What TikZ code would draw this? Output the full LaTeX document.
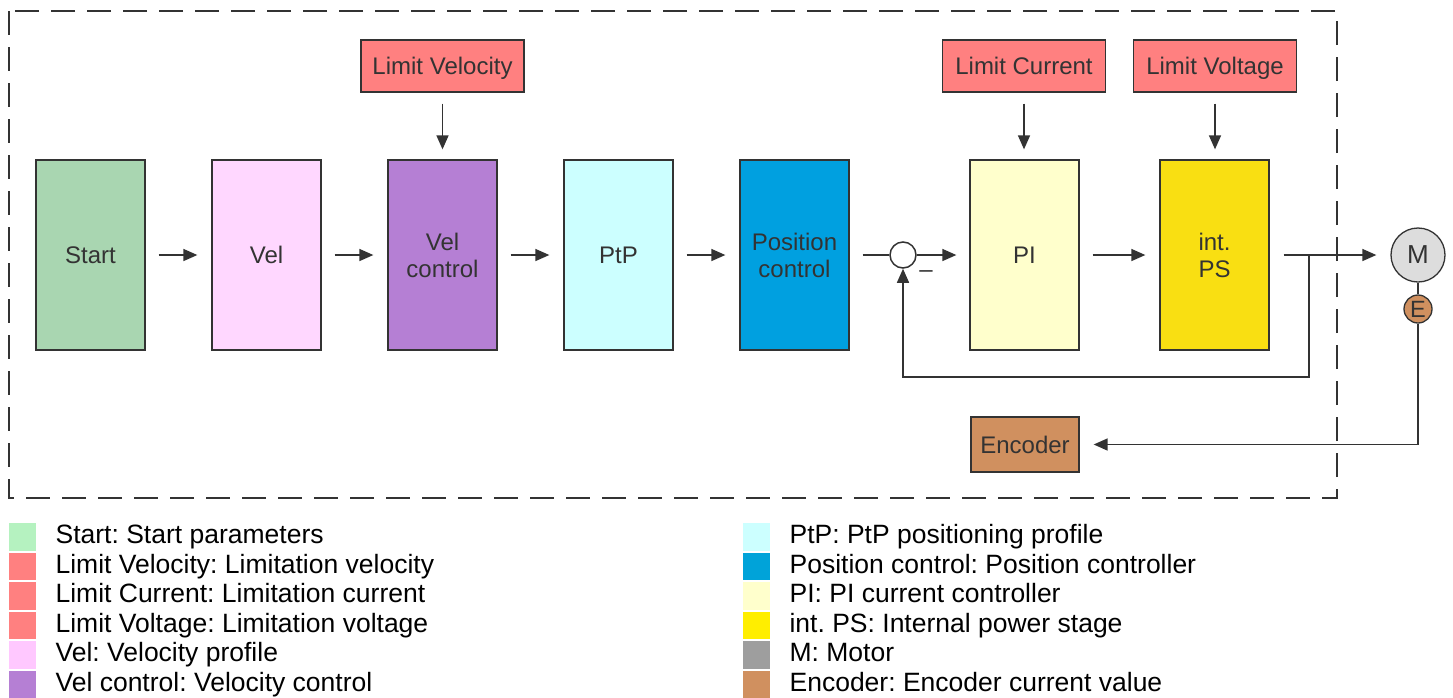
\documentclass[tikz,border=0pt]{standalone}
\usepackage{fontspec}
\setmainfont{Liberation Sans}
\frenchspacing
\usetikzlibrary{arrows.meta,positioning,calc}
\definecolor{Edge}{HTML}{333333}
\definecolor{Txt}{HTML}{333333}
\definecolor{Lim}{HTML}{FF8080}
\definecolor{StartC}{HTML}{A9D6B1}
\definecolor{StartK}{HTML}{B5F2C0}
\definecolor{VelC}{HTML}{FFD7FF}
\definecolor{VelK}{HTML}{FFC8FF}
\definecolor{VelCtl}{HTML}{B57FD4}
\definecolor{PtpC}{HTML}{CCFFFF}
\definecolor{PosC}{HTML}{00A0E0}
\definecolor{PosK}{HTML}{00A3D9}
\definecolor{PiC}{HTML}{FFFFCC}
\definecolor{PsC}{HTML}{F9DF12}
\definecolor{PsK}{HTML}{FFEE00}
\definecolor{MotC}{HTML}{DDDDDD}
\definecolor{MotK}{HTML}{9E9E9E}
\definecolor{EncC}{HTML}{D0905F}
\begin{document}
\begin{tikzpicture}[x=1pt,y=-1pt,node distance=65.7pt,
blk/.style={draw=Edge,line width=1.3pt,minimum width=109pt,minimum height=190pt,inner sep=0pt,align=center,text=Txt,font=\fontsize{24}{27}\selectfont},
lim/.style={blk,fill=Lim,minimum width=163pt,minimum height=52pt,text height=21pt,text depth=5pt},
arr/.style={-{Triangle[length=14pt,width=12pt]},line width=1.5pt,draw=Edge},
wire/.style={line width=1.5pt,draw=Edge},
swatch/.style={fill=#1,minimum width=27pt,minimum height=27.5pt,inner sep=0pt,anchor=north west},
swatchtxt/.style={right=19pt of #1,inner sep=0pt,text height=19pt,text depth=5.5pt,font=\fontsize{26.5}{30}\selectfont}]
\useasboundingbox (0,0) rectangle (1453,697);
\draw[line width=1.5pt,draw=Edge,dash pattern=on 24pt off 12pt] (9,11) rectangle (1337,498);
% main chain
\node[blk,fill=StartC] (start) at (90.5,255) {Start};
\node[blk,fill=VelC,right=of start] (vel) {Vel};
\node[blk,fill=VelCtl,right=of vel] (velctl) {Vel\\control};
\node[blk,fill=PtpC,right=of velctl] (ptp) {PtP};
\node[blk,fill=PosC,right=of ptp] (posctl) {Position\\control};
\node[draw=Edge,line width=1.5pt,fill=white,circle,minimum size=26pt,inner sep=0pt] (sum) at (903,255) {};
\node[text=Edge,font=\fontsize{24}{27}\selectfont,inner sep=0pt] (minus) at (926,274) {--};
\node[blk,fill=PiC] (pi) at (1024.5,255) {PI};
\node[blk,fill=PsC,right=79.7pt of pi] (intps) {int.\\PS};
\node[draw=Edge,line width=1.3pt,fill=MotC,circle,minimum size=54pt,inner sep=0pt,text=Txt,font=\fontsize{26}{30}\selectfont] (motor) at (1418,255) {M};
\node[draw=Edge,line width=1.3pt,fill=EncC,circle,minimum size=28pt,inner sep=0pt,text=Txt,font=\fontsize{23.5}{27}\selectfont] (enc) at (1418,309) {E};
\node[blk,fill=EncC,minimum width=108pt,minimum height=55pt,text height=22pt,text depth=5pt] (encoder) at (1025,444.5) {Encoder};
% limits
\node[lim] (limvel) at (442.5,66) {Limit Velocity};
\node[lim] (limcur) at (1024,66) {Limit Current};
\node[lim] (limvolt) at (1215,66) {Limit Voltage};
\draw[arr,shorten <=11pt,shorten >=10pt] (limvel.south)--(limvel.south|-velctl.north);
\draw[arr,shorten <=11pt,shorten >=10pt] (limcur.south)--(limcur.south|-pi.north);
\draw[arr,shorten <=11pt,shorten >=10pt] (limvolt.south)--(limvolt.south|-intps.north);
% connectors
\draw[arr,shorten <=13pt,shorten >=14pt] (start)--(vel);
\draw[arr,shorten <=13pt,shorten >=14pt] (vel)--(velctl);
\draw[arr,shorten <=13pt,shorten >=14pt] (velctl)--(ptp);
\draw[arr,shorten <=13pt,shorten >=14pt] (ptp)--(posctl);
\draw[wire,shorten <=13pt] (posctl)--(sum);
\draw[arr,shorten >=13pt] (sum)--(pi);
\draw[arr,shorten <=13pt,shorten >=14pt] (pi)--(intps);
\draw[arr,shorten <=14pt,shorten >=14pt] (intps)--(motor);
\coordinate (tap) at (1309,255);
\draw[arr] (tap)--++(0,122)-|(sum.south);
\draw[wire] (motor)--(enc);
\draw[arr,shorten >=14pt] (enc.south)|-(encoder);
% legend
\node[swatch=StartK] (k1) at (9,523) {};
\node[swatchtxt=k1] (t1) {Start: Start parameters};
\node[swatch=Lim] (k2) at (9,552.5) {};
\node[swatchtxt=k2] (t2) {Limit Velocity: Limitation velocity};
\node[swatch=Lim] (k3) at (9,582) {};
\node[swatchtxt=k3] (t3) {Limit Current: Limitation current};
\node[swatch=Lim] (k4) at (9,611.5) {};
\node[swatchtxt=k4] (t4) {Limit Voltage: Limitation voltage};
\node[swatch=VelK] (k5) at (9,641) {};
\node[swatchtxt=k5] (t5) {Vel: Velocity profile};
\node[swatch=VelCtl] (k6) at (9,670.5) {};
\node[swatchtxt=k6] (t6) {Vel control: Velocity control};
\node[swatch=PtpC] (k7) at (743,523) {};
\node[swatchtxt=k7] (t7) {PtP: PtP positioning profile};
\node[swatch=PosK] (k8) at (743,552.5) {};
\node[swatchtxt=k8] (t8) {Position control: Position controller};
\node[swatch=PiC] (k9) at (743,582) {};
\node[swatchtxt=k9] (t9) {PI: PI current controller};
\node[swatch=PsK] (k10) at (743,611.5) {};
\node[swatchtxt=k10] (t10) {int. PS: Internal power stage};
\node[swatch=MotK] (k11) at (743,641) {};
\node[swatchtxt=k11] (t11) {M: Motor};
\node[swatch=EncC] (k12) at (743,670.5) {};
\node[swatchtxt=k12] (t12) {Encoder: Encoder current value};
\end{tikzpicture}
\end{document}
